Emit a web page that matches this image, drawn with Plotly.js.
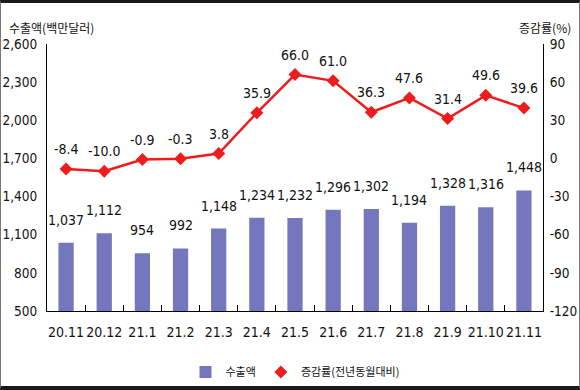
<!DOCTYPE html>
<html>
<head>
<meta charset="utf-8">
<script src="https://cdn.plot.ly/plotly-3.0.1.min.js"></script>
<style>
  html, body { margin: 0; padding: 0; background: #fff; }
  #frame { width: 578px; height: 383px; border-top: 3px solid #1a1a1a; border-bottom: 4px solid #1a1a1a; border-left: 1px solid #777; border-right: 1px solid #777; }
  #chart { width: 578px; height: 383px; }
</style>
</head>
<body>
<div id="frame"><div id="chart"></div></div>
<script>
const categories = ["20.11","20.12","21.1","21.2","21.3","21.4","21.5","21.6","21.7","21.8","21.9","21.10","21.11"];
const exportValues = [1037,1112,954,992,1148,1234,1232,1296,1302,1194,1328,1316,1448];
const growthRates = [-8.4,-10.0,-0.9,-0.3,3.8,35.9,66.0,61.0,36.3,47.6,31.4,49.6,39.6];
const leftTicks = [500,800,1100,1400,1700,2000,2300,2600];
const rightTicks = [-120,-90,-60,-30,0,30,60,90];
const seriesNames = ["수출액", "증감률(전년동월대비)"];
const leftTitle = "수출액(백만달러)";
const rightTitle = "증감률(%)";

const FONT = "'Liberation Sans Narrow', 'Arial Narrow', 'DejaVu Sans Condensed', sans-serif";
const KFONT = "'Noto Sans CJK KR', sans-serif";
const FS = 14;
const YFS = 13.5;

const fmt = v => v.toLocaleString('en-US');
const idx = categories.map((c, i) => i);
const RED = '#EE1C1C';

const barTrace = {
  type: 'bar', x: idx, y: exportValues, name: seriesNames[0],
  marker: { color: '#7577BE' }, width: 0.4, yaxis: 'y', hoverinfo: 'skip'
};
const lineTrace = {
  type: 'scatter', mode: 'lines+markers', x: idx, y: growthRates, name: seriesNames[1],
  line: { color: RED, width: 2.5 },
  marker: { symbol: 'diamond', size: 10, color: RED },
  yaxis: 'y2', hoverinfo: 'skip', showlegend: false
};
const lineLegend = {
  type: 'scatter', mode: 'markers', x: [null], y: [null], name: seriesNames[1],
  marker: { symbol: 'diamond', size: 10, color: RED }, yaxis: 'y2', hoverinfo: 'skip'
};

const annotations = [];
idx.forEach(i => {
  annotations.push({ x: i, y: exportValues[i], xref: 'x', yref: 'y', text: fmt(exportValues[i]),
    showarrow: false, yanchor: 'bottom', yshift: 13, font: { family: FONT, size: FS, color: '#111' } });
  annotations.push({ x: i, y: growthRates[i], xref: 'x', yref: 'y2', text: growthRates[i].toFixed(1),
    showarrow: false, yanchor: 'bottom', yshift: 10, font: { family: FONT, size: FS, color: '#111' } });
});
annotations.push({ xref: 'paper', yref: 'paper', x: 0.01, y: 1.0, xanchor: 'center', yanchor: 'bottom', yshift: 6,
  text: leftTitle, showarrow: false, font: { family: KFONT, size: 12, color: '#111' } });
annotations.push({ xref: 'paper', yref: 'paper', x: 1.005, y: 1.0, xanchor: 'center', yanchor: 'bottom', yshift: 6,
  text: rightTitle, showarrow: false, font: { family: KFONT, size: 12, color: '#111' } });

const layout = {
  width: 578, height: 383,
  margin: { l: 46, r: 36, t: 41, b: 75, autoexpand: false },
  paper_bgcolor: '#fff', plot_bgcolor: '#fff',
  font: { family: FONT, size: FS, color: '#111' },
  showlegend: true,
  legend: { orientation: 'h', x: 0.5, xanchor: 'center', y: -0.228, yanchor: 'middle',
    font: { family: KFONT, size: 11, color: '#111' }, traceorder: 'normal', itemwidth: 30 },
  xaxis: {
    range: [-0.5, 12.5], tickvals: idx, ticktext: categories, tickangle: 0,
    showline: true, linecolor: '#000', linewidth: 1,
    ticks: '', showgrid: false, zeroline: false, tickfont: { family: FONT, size: FS, color: '#111' },
    ticklabelstandoff: 8,
    minor: { tickvals: idx.slice(0, -1).map(i => i + 0.5), ticks: 'inside', ticklen: 6, tickwidth: 1, tickcolor: '#000', showgrid: false }
  },
  yaxis: {
    range: [500, 2600], tickvals: leftTicks, ticktext: leftTicks.map(fmt),
    showline: true, linecolor: '#000', linewidth: 1, showgrid: false, zeroline: false,
    ticks: '', tickfont: { family: FONT, size: YFS, color: '#111' }, ticklabelstandoff: 6
  },
  yaxis2: {
    range: [-120, 90], tickvals: rightTicks, ticktext: rightTicks.map(v => String(v)), overlaying: 'y', side: 'right',
    showline: true, linecolor: '#000', linewidth: 1, showgrid: false, zeroline: false,
    ticks: '', tickfont: { family: FONT, size: YFS, color: '#111' }, ticklabelstandoff: 3
  },
  annotations: annotations
};

Plotly.newPlot('chart', [barTrace, lineTrace, lineLegend], layout, { displayModeBar: false, staticPlot: true });
</script>
</body>
</html>
